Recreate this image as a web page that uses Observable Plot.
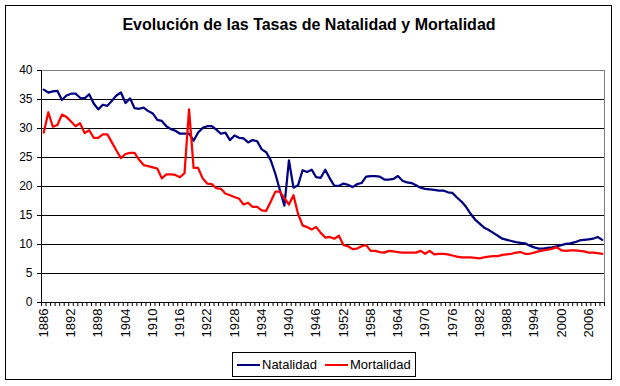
<!DOCTYPE html>
<html>
<head>
<meta charset="utf-8">
<script src="https://cdn.jsdelivr.net/npm/d3@7"></script>
<script src="https://cdn.jsdelivr.net/npm/@observablehq/plot@0.6"></script>
<style>
  html, body { margin: 0; padding: 0; background: #fff; }
  #wrap { position: relative; width: 620px; height: 386px; overflow: hidden; font-family: "Liberation Sans", Arial, sans-serif; }
  #frame { position: absolute; left: 5px; top: 5px; width: 607px; height: 375px; border: 1px solid #000; box-sizing: border-box; }
  #title { position: absolute; left: 0; top: 16px; width: 618px; text-align: center; font-weight: bold; font-size: 16px; color: #000; }
  #chart { position: absolute; left: 0; top: 60px; }
  #legend { position: absolute; left: 232px; top: 352px; width: 184px; height: 25px; border: 1px solid #000; box-sizing: border-box; font-size: 13px; }
  .sw { position: absolute; top: 11px; height: 2px; width: 23px; }
  .lt { position: absolute; top: 4px; line-height: 15px; }
</style>
</head>
<body>
<div id="wrap">
  <div id="frame"></div>
  <div id="title">Evolución de las Tasas de Natalidad y Mortalidad</div>
  <div id="chart"></div>
  <div id="legend">
    <div class="sw" style="left:4px;background:#000080"></div>
    <div class="lt" style="left:29px">Natalidad</div>
    <div class="sw" style="left:92px;background:#ff0000"></div>
    <div class="lt" style="left:117px">Mortalidad</div>
  </div>
</div>
<script>
const years = [1886,1887,1888,1889,1890,1891,1892,1893,1894,1895,1896,1897,1898,1899,1900,1901,1902,1903,1904,1905,1906,1907,1908,1909,1910,1911,1912,1913,1914,1915,1916,1917,1918,1919,1920,1921,1922,1923,1924,1925,1926,1927,1928,1929,1930,1931,1932,1933,1934,1935,1936,1937,1938,1939,1940,1941,1942,1943,1944,1945,1946,1947,1948,1949,1950,1951,1952,1953,1954,1955,1956,1957,1958,1959,1960,1961,1962,1963,1964,1965,1966,1967,1968,1969,1970,1971,1972,1973,1974,1975,1976,1977,1978,1979,1980,1981,1982,1983,1984,1985,1986,1987,1988,1989,1990,1991,1992,1993,1994,1995,1996,1997,1998,1999,2000,2001,2002,2003,2004,2005,2006,2007,2008,2009];

const natalidad = [36.7,36.2,36.4,36.5,34.9,35.7,36.0,36.0,35.3,35.2,35.9,34.3,33.3,34.1,33.9,34.8,35.7,36.2,34.4,35.2,33.5,33.4,33.6,33.0,32.6,31.5,31.3,30.4,29.9,29.6,29.1,29.1,29.1,27.9,29.3,30.1,30.4,30.4,29.8,29.1,29.3,28.0,28.8,28.4,28.3,27.6,28.0,27.8,26.4,25.9,24.5,22.2,19.4,16.7,24.5,19.8,20.2,22.8,22.5,22.9,21.6,21.5,22.9,21.4,20.1,20.1,20.5,20.3,19.9,20.4,20.6,21.7,21.8,21.8,21.7,21.2,21.2,21.3,21.8,21.0,20.7,20.6,20.2,19.8,19.6,19.5,19.4,19.3,19.3,19.0,18.9,18.1,17.4,16.5,15.3,14.3,13.6,12.9,12.5,12.0,11.5,11.0,10.8,10.6,10.4,10.3,10.2,9.8,9.5,9.3,9.3,9.4,9.5,9.7,9.9,10.1,10.2,10.4,10.7,10.8,10.9,11.0,11.3,10.8];

const mortalidad = [29.3,32.8,30.3,30.6,32.4,32.0,31.2,30.4,30.9,29.2,29.7,28.4,28.4,29.0,29.0,27.6,26.2,24.9,25.6,25.8,25.8,24.6,23.7,23.5,23.3,23.1,21.4,22.1,22.1,22.0,21.6,22.3,33.3,23.2,23.2,21.4,20.5,20.4,19.7,19.6,18.8,18.5,18.2,17.9,16.9,17.2,16.5,16.5,15.9,15.8,17.4,19.1,19.1,18.0,16.9,18.5,15.3,13.3,13.0,12.6,13.0,12.0,11.2,11.3,11.0,11.5,9.9,9.7,9.2,9.3,9.7,9.9,8.9,8.9,8.7,8.6,8.9,8.8,8.7,8.6,8.6,8.6,8.6,8.9,8.4,8.9,8.3,8.4,8.4,8.3,8.1,7.9,7.8,7.8,7.8,7.7,7.6,7.8,7.9,8.0,8.0,8.2,8.3,8.4,8.6,8.7,8.4,8.4,8.6,8.8,9.0,9.1,9.3,9.5,9.0,8.9,9.0,9.0,8.9,8.8,8.6,8.6,8.5,8.4];

const yTicks = [0,5,10,15,20,25,30,35,40];
const xLabelYears = [1886,1892,1898,1904,1910,1916,1922,1928,1934,1940,1946,1952,1958,1964,1970,1976,1982,1988,1994,2000,2006];

const rows = years.map((year, i) => ({year, natalidad: natalidad[i], mortalidad: mortalidad[i]}));
const xMin = years[0] - 0.5;
const xMax = years[years.length - 1] + 0.5;
const boundaries = years.map(y => y - 0.5).concat([xMax]);
const gridVals = yTicks.filter(v => v > 0 && v < 40);

const chart = Plot.plot({
  width: 620,
  height: 290,
  marginTop: 10,
  marginBottom: 48,
  marginLeft: 41,
  marginRight: 16,
  style: {fontFamily: "'Liberation Sans', Arial, sans-serif", fontSize: "12px", color: "#000", background: "transparent", overflow: "visible"},
  x: {domain: [xMin, xMax]},
  y: {domain: [0, 40]},
  marks: [
    Plot.ruleY(gridVals, {stroke: "#000", strokeWidth: 1}),
    Plot.ruleY([40], {stroke: "#808080", strokeWidth: 1}),
    Plot.ruleX([xMax], {stroke: "#808080", strokeWidth: 1}),
    Plot.lineY(rows, {x: "year", y: "natalidad", stroke: "#000080", strokeWidth: 2.25}),
    Plot.lineY(rows, {x: "year", y: "mortalidad", stroke: "#ff0000", strokeWidth: 2.25}),
    Plot.ruleX([xMin], {stroke: "#000", strokeWidth: 1}),
    Plot.ruleY([0], {stroke: "#000", strokeWidth: 1}),
    Plot.axisY({ticks: yTicks, tickSize: 4, tickPadding: 5, fontSize: 12, label: null}),
    Plot.axisX({ticks: boundaries, tickSize: 4, tickFormat: () => "", label: null}),
    Plot.axisX({ticks: xLabelYears, tickSize: 0, tickPadding: 6, tickRotate: -90, tickFormat: d => String(d), fontSize: 13, label: null})
  ]
});
document.getElementById("chart").appendChild(chart);
</script>
</body>
</html>
